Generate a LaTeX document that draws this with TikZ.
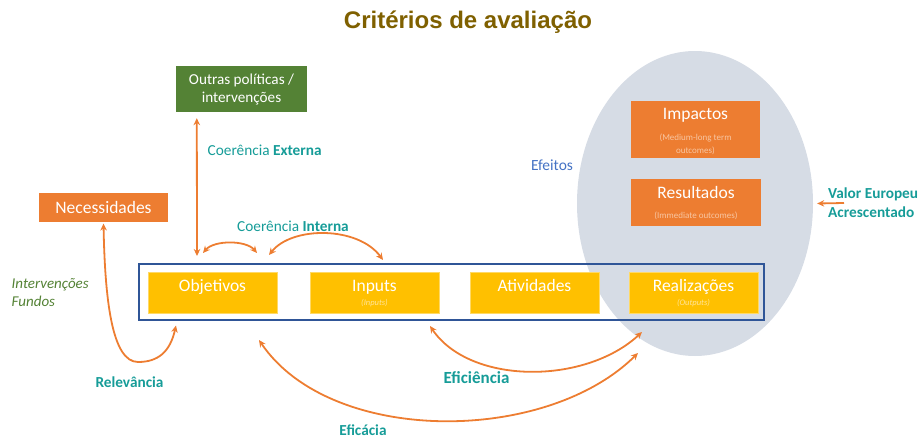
\documentclass[tikz,border=0pt]{standalone}
\usepackage{fontspec}
\setmainfont{Carlito}
\newfontfamily\titlefont{Liberation Sans}
\usetikzlibrary{arrows.meta,calc,shapes.geometric}
\definecolor{cOrange}{HTML}{ED7D31}
\definecolor{cYellow}{HTML}{FFC000}
\definecolor{cGreen}{HTML}{548235}
\definecolor{cBlue}{HTML}{2F5597}
\definecolor{cEll}{HTML}{D6DCE5}
\definecolor{cTeal}{RGB}{22,156,152}
\definecolor{cTitle}{HTML}{7F6000}
\definecolor{cEfe}{HTML}{4472C4}
\definecolor{cSubO}{HTML}{F8C6A2}
\definecolor{cSubY}{HTML}{FFE59A}
\begin{document}
\begin{tikzpicture}[x=1pt,y=-1pt,
  ybox/.style={fill=cYellow, draw=cYellow!60!white, line width=0.6pt, minimum width=129pt, minimum height=41pt, inner sep=0pt, outer sep=0pt},
  obox/.style={fill=cOrange, inner sep=0pt, outer sep=0pt},
  ttl/.style={text=white, font=\fontsize{17.5}{20}\selectfont, inner sep=0pt, text height=11pt, text depth=3pt},
  subO/.style={text=cSubO, font=\fontsize{9}{12.5}\selectfont, inner sep=0pt, align=center},
  subY/.style={text=cSubY, font=\fontsize{8.5}{10}\selectfont\itshape, inner sep=0pt},
  tealtxt/.style={text=cTeal, inner sep=0pt},
  conn/.style={draw=cOrange, line width=1.8pt, {Stealth[length=7pt,width=6.5pt]}-{Stealth[length=7pt,width=6.5pt]}},
  conn1/.style={draw=cOrange, line width=1.8pt, -{Stealth[length=7pt,width=6.5pt]}}
]
\useasboundingbox (0,0) rectangle (922,439);

% effects ellipse
\node (efe) [ellipse, fill=cEll, inner sep=0pt, minimum width=236pt, minimum height=305pt] at (695,203.5) {};

% title
\node (title) [text=cTitle, font=\titlefont\bfseries\fontsize{24}{28}\selectfont, inner sep=0pt] at (468,22) {Critérios de avaliação};

% boxes
\node (outras) [fill=cGreen, text=white, minimum width=131pt, minimum height=46pt, inner sep=0pt, align=center, font=\fontsize{15.2}{18}\selectfont] at (241.5,89) {Outras políticas /\\intervenções};
\node (nec) [obox, minimum width=129pt, minimum height=29pt, text=white, font=\fontsize{17.5}{20}\selectfont] at (103.5,207.5) {Necessidades};

\node (imp) [obox, minimum width=129pt, minimum height=57pt] at (695.5,129.5) {};
\node (impT) [ttl] at ($(imp.center)+(0,-14.5)$) {Impactos};
\node (impS) [subO] at ($(imp.center)+(0,15)$) {(Medium-long term\\outcomes)};
\node (res) [obox, minimum width=130pt, minimum height=47pt] at (696,202.5) {};
\node (resT) [ttl] at ($(res.center)+(0,-8.5)$) {Resultados};
\node (resS) [subO] at ($(res.center)+(0,13.5)$) {(Immediate outcomes)};

% programme frame
\node (frame) [draw=cBlue, line width=1.2pt, minimum width=625pt, minimum height=56pt, inner sep=0pt] at (451.5,292) {};
\node (obj) [ybox] at (212.5,292.5) {};
\node (objT) [ttl] at ($(obj.center)+(0,-5.5)$) {Objetivos};
\node (inp) [ybox] at (374.5,292.5) {};
\node (inpT) [ttl] at ($(inp.center)+(0,-5.5)$) {Inputs};
\node (inpS) [subY] at ($(inp.center)+(0,10.5)$) {(Inputs)};
\node (ati) [ybox] at (534.5,292.5) {};
\node (atiT) [ttl] at ($(ati.center)+(0,-5.5)$) {Atividades};
\node (rea) [ybox] at (693.5,292.5) {};
\node (reaT) [ttl] at ($(rea.center)+(0,-5.5)$) {Realizações};
\node (reaS) [subY] at ($(rea.center)+(0,10.5)$) {(Outputs)};

% labels
\node (cext) [tealtxt, anchor=west, font=\fontsize{15.3}{18}\selectfont] at (207.5,150) {Coerência \textbf{Externa}};
\node (cint) [tealtxt, font=\fontsize{15.3}{18}\selectfont] at (293,226) {Coerência \textbf{Interna}};
\node (efeL) [text=cEfe, inner sep=0pt, font=\fontsize{15.5}{18}\selectfont] at (552,165) {Efeitos};
\node (valor) [tealtxt, anchor=west, align=left, font=\bfseries\fontsize{15.3}{19}\selectfont] at (828,202.5) {Valor Europeu\\Acrescentado};
\node (relev) [tealtxt, font=\bfseries\fontsize{15.3}{18}\selectfont] at (129.5,382) {Relevância};
\node (interv) [text=cGreen, anchor=west, align=left, inner sep=0pt, font=\itshape\fontsize{15}{18.5}\selectfont] at (11.5,292.5) {Intervenções\\Fundos};
\node (efic) [tealtxt, font=\bfseries\fontsize{17}{20}\selectfont] at (476.5,378) {Eficiência};
\node (eficacia) [tealtxt, font=\bfseries\fontsize{15.3}{18}\selectfont] at (363,430) {Eficácia};

% connector end points
\coordinate (ceTop) at ($(outras.south west)+(21,6)$);
\coordinate (ceBot) at ($(obj.north west)+(49,-16)$);
\coordinate (ci1) at (203,253);
\coordinate (ci2) at (257,253);
\coordinate (ci3) at (269,255);
\coordinate (ci4) at (383,260);
\coordinate (relA) at ($(obj.south west)+(28,12.5)$);
\coordinate (necB) at ($(nec.south)+(0,1.5)$);
\coordinate (ecA) at (259,340);
\coordinate (ecB) at (638,353);
\coordinate (eiA) at (430,326);
\coordinate (eiB) at (642,332);
\coordinate (vA) at (844,203);
\coordinate (vB) at ($(efe.east)+(4,0)$);

% connectors
\draw[conn] (ceTop) -- (ceBot);
\draw[conn] (ci1) .. controls (214,240) and (246,240) .. (ci2);
\draw[conn] (ci3) .. controls (292,226) and (358,226) .. (ci4);
\draw[conn] (relA) .. controls (170,352) and (158,362) .. (138,362) .. controls (112,362) and (105,300) .. (necB);
\draw[conn] (ecA) .. controls (330,445) and (545,445) .. (ecB);
\draw[conn] (eiA) .. controls (470,385) and (585,385) .. (eiB);
\draw[conn1] (vA) -- (vB);
\end{tikzpicture}
\end{document}
